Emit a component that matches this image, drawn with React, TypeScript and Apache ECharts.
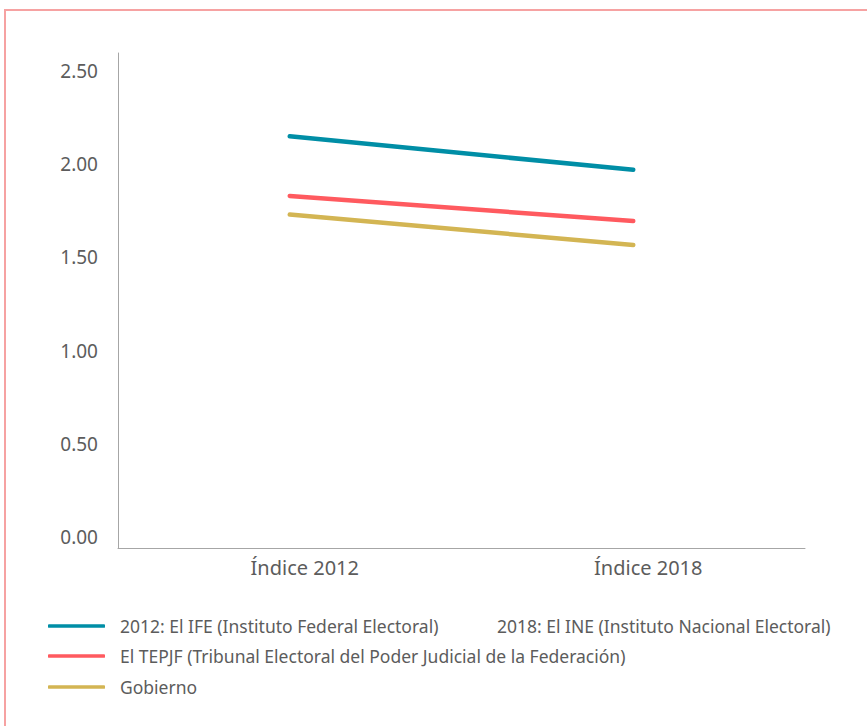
import React, { useEffect, useRef } from "react";
import * as echarts from "echarts";

const categories = ["Índice 2012", "Índice 2018"];
const yTicks = [0, 0.5, 1, 1.5, 2, 2.5];
const seriesNames = [
  "2012: El IFE (Instituto Federal Electoral)",
  "2018: El INE (Instituto Nacional Electoral)",
  "El TEPJF (Tribunal Electoral del Poder Judicial de la Federación)",
  "Gobierno",
];
const ifeIne = [2.15, 1.97];
const tepjf = [1.83, 1.695];
const gobierno = [1.73, 1.567];
const colors = ["#008ea6", "#ffffff", "#ff5a5f", "#d3b553"];

const FONT = "'Noto Sans', 'Open Sans', sans-serif";
const TEXT = "#5c5c5c";

export default function App() {
  const ref = useRef<HTMLDivElement>(null);
  useEffect(() => {
    if (!ref.current) return;
    const chart = echarts.init(ref.current, undefined, { renderer: "svg" });
    const legendBase = {
      orient: "horizontal" as const,
      itemWidth: 57,
      itemHeight: 3.5,
      icon: "roundRect",
      padding: 0,
      selectedMode: false,
      textStyle: { color: TEXT, fontSize: 17.5, fontFamily: FONT, padding: [0, 0, 0, 10] },
    };
    chart.setOption({
      animation: false,
      textStyle: { fontFamily: FONT },
      grid: { left: 118, right: 62, top: 53, bottom: 178 },
      legend: [
        { ...legendBase, left: 48, top: 617, data: [seriesNames[0]] },
        {
          ...legendBase,
          left: 425,
          top: 617,
          data: [{ name: seriesNames[1], itemStyle: { opacity: 0 } }],
        },
        { ...legendBase, left: 48, top: 647, data: [seriesNames[2]] },
        { ...legendBase, left: 48, top: 678, data: [seriesNames[3]] },
      ],
      xAxis: {
        type: "category",
        data: categories,
        boundaryGap: true,
        axisLine: { show: true, onZero: false, lineStyle: { color: "#a6a6a6", width: 1 } },
        axisTick: { show: false },
        axisLabel: {
          color: TEXT,
          fontSize: 20,
          fontFamily: FONT,
          margin: 9,
          padding: [0, 0, 0, 30],
        },
        splitLine: { show: false },
      },
      yAxis: {
        type: "value",
        min: -0.059,
        max: 2.597,
        axisLine: { show: true, onZero: false, lineStyle: { color: "#a6a6a6", width: 1 } },
        axisTick: { show: false },
        splitLine: { show: false },
        axisLabel: {
          customValues: yTicks,
          color: TEXT,
          fontSize: 19,
          fontFamily: FONT,
          margin: 20,
          formatter: (v: number) => v.toFixed(2),
        },
      },
      series: [
        {
          name: seriesNames[0],
          type: "line",
          data: ifeIne,
          symbol: "none",
          color: colors[0],
          lineStyle: { width: 4.5, color: colors[0], cap: "round" },
        },
        {
          name: seriesNames[1],
          type: "line",
          data: [],
          symbol: "none",
          color: colors[1],
          lineStyle: { width: 4.5, opacity: 0 },
          itemStyle: { opacity: 0 },
        },
        {
          name: seriesNames[2],
          type: "line",
          data: tepjf,
          symbol: "none",
          color: colors[2],
          lineStyle: { width: 4.5, color: colors[2], cap: "round" },
        },
        {
          name: seriesNames[3],
          type: "line",
          data: gobierno,
          symbol: "none",
          color: colors[3],
          lineStyle: { width: 4.5, color: colors[3], cap: "round" },
        },
      ],
    });
    return () => chart.dispose();
  }, []);

  return (
    <div
      style={{
        position: "absolute",
        left: 0,
        top: 0,
        width: 867,
        height: 726,
        overflow: "hidden",
        background: "#ffffff",
      }}
    >
      <div
        style={{
          position: "absolute",
          left: 4,
          top: 9,
          width: 1000,
          height: 1000,
          borderLeft: "2px solid #f6a2a2",
          borderTop: "2px solid #f6a2a2",
          boxSizing: "border-box",
        }}
      />
      <div ref={ref} style={{ position: "absolute", left: 0, top: 0, width: 867, height: 726 }} />
    </div>
  );
}
